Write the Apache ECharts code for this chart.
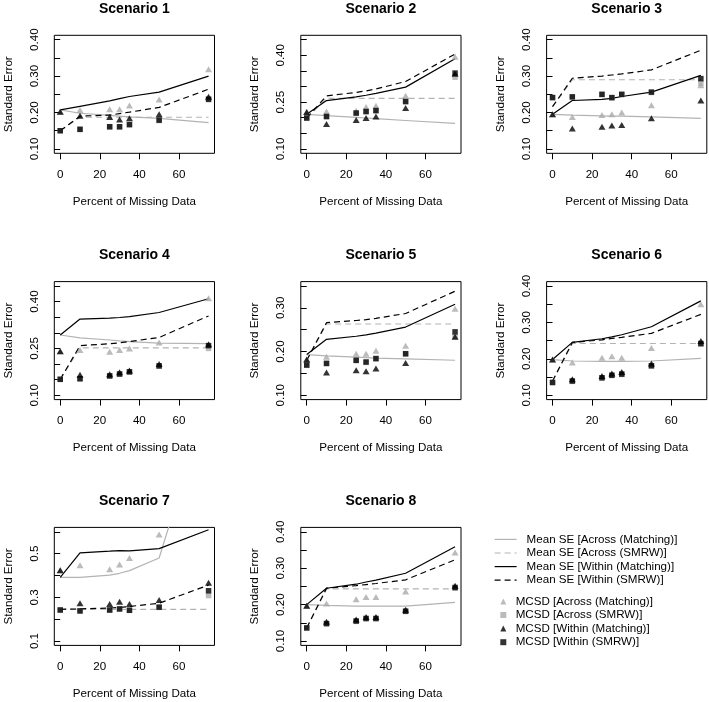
<!DOCTYPE html>
<html><head><meta charset="utf-8">
<script src="https://cdn.jsdelivr.net/npm/echarts@6/dist/echarts.min.js"></script>
<style>html,body{margin:0;padding:0;background:#fff}#c{width:709px;height:702px}</style>
</head><body><div id="c"></div>
<script>
// ---------------- data ----------------
const pctMissing = [0, 10, 25, 30, 35, 50, 75];
const scenarios = ['Scenario 1','Scenario 2','Scenario 3','Scenario 4','Scenario 5','Scenario 6','Scenario 7','Scenario 8'];
const xTicks = [0, 20, 40, 60];
const yLimits = [[0.1,0.4],[0.1,0.45],[0.1,0.4],[0.1,0.45],[0.1,0.35],[0.1,0.4],[0.1,0.6],[0.1,0.4]];
const yTickValues = [
  [0.10,0.15,0.20,0.25,0.30,0.35,0.40],
  [0.10,0.15,0.20,0.25,0.30,0.35,0.40,0.45],
  [0.10,0.15,0.20,0.25,0.30,0.35,0.40],
  [0.10,0.15,0.20,0.25,0.30,0.35,0.40,0.45],
  [0.10,0.15,0.20,0.25,0.30,0.35],
  [0.10,0.15,0.20,0.25,0.30,0.35,0.40],
  [0.1,0.2,0.3,0.4,0.5,0.6],
  [0.10,0.15,0.20,0.25,0.30,0.35,0.40]
];
const yLabelValues = [
  [0.10,0.20,0.30,0.40],
  [0.10,0.25,0.40],
  [0.10,0.20,0.30,0.40],
  [0.10,0.25,0.40],
  [0.10,0.20,0.30],
  [0.10,0.20,0.30,0.40],
  [0.1,0.3,0.5],
  [0.10,0.20,0.30,0.40]
];
const yLabelDigits = [2,2,2,2,2,2,1,2];

// Mean SE [Across (Matching)]  (one row per scenario, values at pctMissing)
const meanSeAcrossMatching = [
  [0.207,0.198,0.192,0.190,0.188,0.184,0.172],
  [0.211,0.207,0.201,0.199,0.197,0.191,0.182],
  [0.195,0.193,0.191,0.190,0.190,0.188,0.184],
  [0.293,0.284,0.277,0.274,0.272,0.267,0.265],
  [0.193,0.190,0.187,0.186,0.185,0.183,0.180],
  [0.198,0.194,0.193,0.193,0.193,0.194,0.201],
  [0.391,0.391,0.402,0.410,0.422,0.480,1.210],
  [0.200,0.198,0.196,0.196,0.196,0.196,0.206]
];
// Mean SE [Across (SMRW)]
const meanSeAcrossSmrw = [
  [0.150,0.187,0.187,0.187,0.187,0.187,0.187],
  [0.199,0.262,0.262,0.262,0.262,0.262,0.262],
  [0.216,0.290,0.290,0.290,0.290,0.290,0.290],
  [0.151,0.252,0.252,0.252,0.252,0.252,0.252],
  [0.180,0.263,0.263,0.263,0.263,0.263,0.263],
  [0.139,0.242,0.242,0.242,0.242,0.242,0.242],
  [0.245,0.245,0.245,0.245,0.245,0.245,0.245],
  [0.136,0.243,0.243,0.243,0.243,0.243,0.243]
];
// Mean SE [Within (Matching)]
const meanSeWithinMatching = [
  [0.207,0.217,0.232,0.238,0.244,0.256,0.300],
  [0.211,0.255,0.267,0.272,0.278,0.298,0.389],
  [0.195,0.233,0.236,0.239,0.244,0.256,0.302],
  [0.293,0.344,0.347,0.349,0.352,0.365,0.409],
  [0.193,0.228,0.235,0.238,0.242,0.256,0.308],
  [0.198,0.245,0.255,0.260,0.266,0.288,0.359],
  [0.391,0.503,0.511,0.514,0.513,0.523,0.609],
  [0.200,0.245,0.256,0.262,0.267,0.286,0.359]
];
// Mean SE [Within (SMRW)]
const meanSeWithinSmrw = [
  [0.150,0.190,0.193,0.197,0.201,0.214,0.264],
  [0.199,0.270,0.281,0.286,0.292,0.316,0.404],
  [0.216,0.294,0.300,0.303,0.306,0.317,0.371],
  [0.151,0.259,0.265,0.268,0.272,0.285,0.354],
  [0.180,0.266,0.271,0.273,0.276,0.287,0.338],
  [0.139,0.245,0.252,0.256,0.259,0.270,0.322],
  [0.245,0.247,0.251,0.254,0.258,0.273,0.356],
  [0.136,0.245,0.252,0.255,0.258,0.268,0.323]
];
// MCSD [Across (Matching)]
const mcsdAcrossMatching = [
  [0.202,0.207,0.209,0.209,0.219,0.236,0.319],
  [0.218,0.220,0.222,0.234,0.238,0.270,0.395],
  [0.195,0.188,0.193,0.195,0.200,0.220,0.275],
  [0.241,0.245,0.239,0.245,0.250,0.269,0.411],
  [0.182,0.188,0.195,0.195,0.202,0.213,0.298],
  [0.198,0.190,0.203,0.207,0.203,0.230,0.350],
  [0.424,0.447,0.429,0.450,0.480,0.588,1.050],
  [0.197,0.203,0.215,0.221,0.221,0.236,0.343]
];
// MCSD [Across (SMRW)]
const mcsdAcrossSmrw = [
  [0.150,0.153,0.160,0.160,0.166,0.178,0.238],
  [0.199,0.203,0.214,0.219,0.222,0.251,0.330],
  [0.241,0.242,0.249,0.240,0.249,0.255,0.280],
  [0.151,0.152,0.161,0.167,0.174,0.193,0.250],
  [0.169,0.172,0.179,0.175,0.183,0.194,0.234],
  [0.135,0.138,0.147,0.154,0.157,0.180,0.240],
  [0.242,0.237,0.241,0.246,0.240,0.254,0.308],
  [0.136,0.147,0.154,0.161,0.161,0.181,0.245]
];
// MCSD [Within (Matching)]
const mcsdWithinMatching = [
  [0.202,0.191,0.188,0.181,0.184,0.195,0.243],
  [0.218,0.180,0.193,0.199,0.204,0.231,0.341],
  [0.195,0.156,0.161,0.164,0.166,0.184,0.233],
  [0.241,0.166,0.167,0.174,0.179,0.200,0.263],
  [0.182,0.152,0.157,0.155,0.161,0.174,0.234],
  [0.198,0.144,0.153,0.160,0.164,0.187,0.249],
  [0.424,0.273,0.270,0.280,0.270,0.288,0.367],
  [0.197,0.153,0.159,0.166,0.166,0.186,0.252]
];
// MCSD [Within (SMRW)]
const mcsdWithinSmrw = [
  [0.150,0.154,0.161,0.161,0.167,0.179,0.236],
  [0.199,0.204,0.215,0.220,0.223,0.252,0.343],
  [0.241,0.243,0.250,0.241,0.250,0.256,0.293],
  [0.151,0.153,0.162,0.168,0.175,0.194,0.259],
  [0.169,0.173,0.180,0.176,0.184,0.195,0.245],
  [0.135,0.139,0.148,0.155,0.158,0.181,0.242],
  [0.242,0.238,0.242,0.247,0.241,0.255,0.330],
  [0.136,0.148,0.155,0.162,0.162,0.182,0.247]
];

// ---------------- layout / style ----------------
const FONT = '"Liberation Sans", Arial, Helvetica, sans-serif';
const FS = 11.6;
const GRAY = '#b3b3b3';
const GRAYPT = '#aaaaaa';
const BLACK = '#000000';
const DASH = [6, 4];
const colLefts = [54.3, 300.8, 546.6];
const rowTops = [35.3, 281.6, 527.4];
const GW = 160.2, GH = 118;

const seriesDefs = [
  {name:'Mean SE [Across (Matching)]', data:meanSeAcrossMatching, kind:'line', color:GRAY, dashed:false},
  {name:'Mean SE [Across (SMRW)]',     data:meanSeAcrossSmrw,     kind:'line', color:GRAY, dashed:true},
  {name:'Mean SE [Within (Matching)]', data:meanSeWithinMatching, kind:'line', color:BLACK, dashed:false},
  {name:'Mean SE [Within (SMRW)]',     data:meanSeWithinSmrw,     kind:'line', color:BLACK, dashed:true},
  {name:'MCSD [Across (Matching)]', data:mcsdAcrossMatching, kind:'pt', color:GRAYPT, sym:'triangle'},
  {name:'MCSD [Across (SMRW)]',     data:mcsdAcrossSmrw,     kind:'pt', color:GRAYPT, sym:'rect'},
  {name:'MCSD [Within (Matching)]', data:mcsdWithinMatching, kind:'pt', color:BLACK, sym:'triangle'},
  {name:'MCSD [Within (SMRW)]',     data:mcsdWithinSmrw,     kind:'pt', color:BLACK, sym:'rect'}
];

const grids = [], xAxes = [], yAxes = [], titles = [], series = [];
const txt = {fontFamily: FONT, fontSize: FS, color: '#000'};
for (let p = 0; p < 8; p++) {
  const c = p % 3, r = Math.floor(p / 3);
  const left = colLefts[c], top = rowTops[r];
  grids.push({left: left, top: top, width: GW, height: GH, show: true,
    borderColor: '#000', borderWidth: 1, backgroundColor: 'transparent', containLabel: false});
  xAxes.push({type: 'value', gridIndex: p, min: -3, max: 78,
    splitLine: {show: false}, axisLine: {show: false},
    axisTick: {show: true, length: 6, customValues: xTicks, lineStyle: {color: '#000', width: 1}},
    axisLabel: Object.assign({customValues: xTicks, margin: 15, formatter: v => String(v)}, txt),
    name: 'Percent of Missing Data', nameLocation: 'middle', nameGap: 42,
    nameTextStyle: Object.assign({}, txt)});
  const lo = yLimits[p][0], hi = yLimits[p][1], ext = 0.04 * (hi - lo);
  yAxes.push({type: 'value', gridIndex: p, min: lo - ext, max: hi + ext,
    splitLine: {show: false}, axisLine: {show: false},
    axisTick: {show: true, length: 6, customValues: yTickValues[p], lineStyle: {color: '#000', width: 1}},
    axisLabel: Object.assign({customValues: yLabelValues[p], rotate: 90, margin: 14,
      formatter: v => Number(v).toFixed(yLabelDigits[p])}, txt),
    name: 'Standard Error', nameLocation: 'middle', nameGap: 40,
    nameTextStyle: Object.assign({}, txt)});
  titles.push({text: scenarios[p], left: left + GW / 2, top: top - 33.5, textAlign: 'center', padding: 0,
    textStyle: {fontFamily: FONT, fontSize: 14, fontWeight: 'bold', color: '#000'}});
  seriesDefs.forEach((d, k) => {
    const pts = pctMissing.map((x, i) => [x, d.data[p][i]]);
    if (d.kind === 'line') {
      series.push({type: 'line', name: d.name, xAxisIndex: p, yAxisIndex: p, data: pts,
        symbol: 'none', clip: true, silent: true, z: 2 + k,
        itemStyle: {color: d.color},
        lineStyle: {color: d.color, width: 1.2, type: d.dashed ? DASH : 'solid'}});
    } else {
      series.push({type: 'scatter', name: d.name, xAxisIndex: p, yAxisIndex: p, data: pts,
        symbol: d.sym, symbolSize: d.sym === 'triangle' ? [7, 6] : 5.5, clip: true, silent: true, z: 10 + k,
        itemStyle: {color: d.color}});
    }
  });
}

const legendText = {fontFamily: FONT, fontSize: FS, color: '#000', lineHeight: 13.6};
const option = {
  animation: false,
  backgroundColor: '#fff',
  title: titles,
  grid: grids,
  xAxis: xAxes,
  yAxis: yAxes,
  legend: [
    {data: seriesDefs.slice(0, 4).map(d => d.name), orient: 'vertical', left: 494, top: 532.6,
      padding: 0, itemWidth: 22, itemHeight: 12, itemGap: 0, selectedMode: false,
      itemStyle: {color: 'rgba(0,0,0,0)', borderWidth: 0, opacity: 0},
      lineStyle: {width: 1.2},
      textStyle: Object.assign({padding: [0, 0, 0, 5]}, legendText)},
    {data: seriesDefs.slice(4).map(d => d.name), orient: 'vertical', left: 500.3, top: 594.6,
      padding: 0, itemWidth: 6, itemHeight: 6, itemGap: 0, selectedMode: false,
      textStyle: Object.assign({padding: [0, 0, 0, 4.4]}, legendText)}
  ],
  series: series
};
const chart = echarts.init(document.getElementById('c'), null, {renderer: 'canvas'});
chart.setOption(option);
</script>
</body></html>
